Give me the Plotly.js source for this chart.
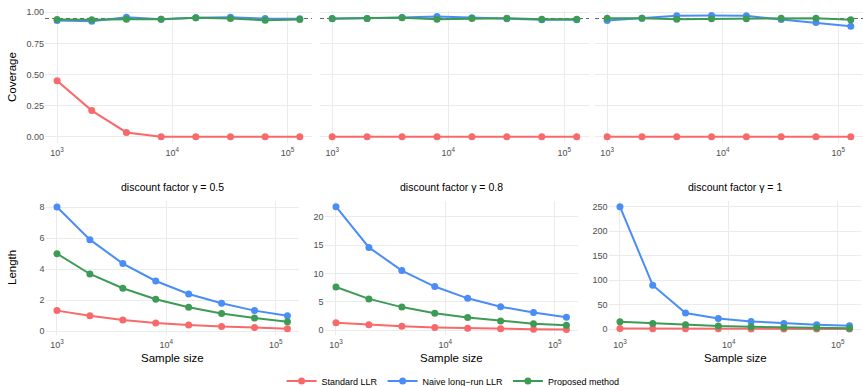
<!DOCTYPE html>
<html>
<head>
<meta charset="utf-8">
<script src="https://cdn.plot.ly/plotly-3.0.1.min.js"></script>
<style>html,body{margin:0;padding:0;background:#fff;}#chart{width:863px;height:386px;}</style>
</head>
<body>
<div id="chart"></div>
<script>
// Data
const sampleSizes = [1000, 2000, 4000, 8000, 16000, 32000, 64000, 128000];
const methods = ["Standard LLR", "Naive long\u2212run LLR", "Proposed method"];
const gammaTitles = ["discount factor \u03b3 = 0.5", "discount factor \u03b3 = 0.8", "discount factor \u03b3 = 1"];
const nominalLevel = 0.95;

// Coverage (top row)
const covStd_05 = [0.45, 0.21, 0.035, 0, 0, 0, 0, 0];
const covNaive_05 = [0.933, 0.928, 0.960, 0.944, 0.955, 0.960, 0.949, 0.947];
const covProp_05 = [0.941, 0.939, 0.944, 0.944, 0.955, 0.949, 0.936, 0.941];
const covStd_08 = [0, 0, 0, 0, 0, 0, 0, 0];
const covNaive_08 = [0.947, 0.949, 0.957, 0.965, 0.955, 0.947, 0.939, 0.939];
const covProp_08 = [0.949, 0.949, 0.955, 0.944, 0.949, 0.952, 0.944, 0.944];
const covStd_1 = [0, 0, 0, 0, 0, 0, 0, 0];
const covNaive_1 = [0.933, 0.952, 0.971, 0.973, 0.971, 0.941, 0.917, 0.888];
const covProp_1 = [0.952, 0.952, 0.944, 0.947, 0.947, 0.952, 0.952, 0.939];

// Length (bottom row)
const lenStd_05 = [1.33, 1.0, 0.73, 0.54, 0.41, 0.30, 0.24, 0.17];
const lenNaive_05 = [8.0, 5.9, 4.36, 3.24, 2.4, 1.8, 1.33, 1.0];
const lenProp_05 = [5.0, 3.69, 2.77, 2.06, 1.55, 1.14, 0.86, 0.62];
const lenStd_08 = [1.3, 0.92, 0.66, 0.45, 0.32, 0.22, 0.15, 0.1];
const lenNaive_08 = [21.8, 14.6, 10.5, 7.68, 5.6, 4.1, 3.1, 2.26];
const lenProp_08 = [7.6, 5.5, 4.05, 2.98, 2.2, 1.6, 1.13, 0.83];
const lenStd_1 = [1.4, 1.0, 0.75, 0.55, 0.4, 0.3, 0.22, 0.16];
const lenNaive_1 = [250, 89.7, 32.9, 21.9, 15.8, 11.6, 8.9, 6.8];
const lenProp_1 = [15, 11.6, 8.9, 6.2, 4.8, 3.4, 2.7, 2.0];

const colors = ["#F8696B", "#4A8DF6", "#3D9B55"];
const W = 863, H = 386;
const FONT = "Liberation Sans, Arial, sans-serif";

const coverage = [[covStd_05, covNaive_05, covProp_05], [covStd_08, covNaive_08, covProp_08], [covStd_1, covNaive_1, covProp_1]];
const lengths = [[lenStd_05, lenNaive_05, lenProp_05], [lenStd_08, lenNaive_08, lenProp_08], [lenStd_1, lenNaive_1, lenProp_1]];

const traces = [];
function addPanel(data, idx, legend) {
  const xa = idx === 1 ? "x" : "x" + idx;
  const ya = idx === 1 ? "y" : "y" + idx;
  for (let m = 0; m < 3; m++) {
    traces.push({
      x: sampleSizes, y: data[m], type: "scatter", mode: "lines+markers",
      name: methods[m], legendgroup: methods[m], showlegend: legend,
      line: {color: colors[m], width: 2}, marker: {color: colors[m], size: 7},
      xaxis: xa, yaxis: ya, hoverinfo: "skip"
    });
  }
}
for (let p = 0; p < 3; p++) addPanel(coverage[p], p + 1, p === 0);
for (let p = 0; p < 3; p++) addPanel(lengths[p], p + 4, false);

const px = (a, b) => [a / W, b / W];
const py = (top, bot) => [1 - bot / H, 1 - top / H];

const topX = [px(45, 312), px(320, 589), px(595, 863)];
const botX = [px(45.5, 299), px(324.5, 578), px(608.5, 861)];
const topY = py(11, 143);
const botY = py(201, 335);

const tickFont = {family: FONT, size: 9, color: "#4d4d4d"};
function xAxis(dom, anchor) {
  return {
    type: "log", domain: dom, anchor: anchor, range: [2.895, 5.213],
    tickvals: [1000, 10000, 100000], ticktext: ["10<sup>3</sup>", "10<sup>4</sup>", "10<sup>5</sup>"],
    showgrid: true, gridcolor: "#EBEBEB", gridwidth: 1, zeroline: false, showline: false,
    ticks: "", ticklabelstandoff: 3, tickfont: tickFont, fixedrange: true, automargin: false
  };
}
function yAxis(dom, anchor, range, vals, fmt, show) {
  return {
    domain: dom, anchor: anchor, range: range, tickvals: vals, tickformat: fmt,
    showticklabels: show, showgrid: true, gridcolor: "#EBEBEB", gridwidth: 1,
    zeroline: false, showline: false, ticks: "", tickfont: tickFont, fixedrange: true, automargin: false
  };
}

const layout = {
  width: W, height: H, margin: {l: 0, r: 0, t: 0, b: 0, pad: 0, autoexpand: false},
  paper_bgcolor: "#fff", plot_bgcolor: "#fff",
  font: {family: FONT},
  showlegend: true,
  legend: {orientation: "h", x: 0.525, xanchor: "center", y: 1 - 381 / H, yanchor: "middle",
    font: {family: FONT, size: 9, color: "#000"}, itemwidth: 30, tracegroupgap: 0},
  xaxis: xAxis(topX[0], "y"), xaxis2: xAxis(topX[1], "y2"), xaxis3: xAxis(topX[2], "y3"),
  xaxis4: xAxis(botX[0], "y4"), xaxis5: xAxis(botX[1], "y5"), xaxis6: xAxis(botX[2], "y6"),
  yaxis: yAxis(topY, "x", [-0.05, 1.01], [0, 0.25, 0.5, 0.75, 1], ".2f", true),
  yaxis2: yAxis(topY, "x2", [-0.05, 1.01], [0, 0.25, 0.5, 0.75, 1], ".2f", false),
  yaxis3: yAxis(topY, "x3", [-0.05, 1.01], [0, 0.25, 0.5, 0.75, 1], ".2f", false),
  yaxis4: yAxis(botY, "x4", [-0.24, 8.39], [0, 2, 4, 6, 8], "d", true),
  yaxis5: yAxis(botY, "x5", [-0.88, 22.8], [0, 5, 10, 15, 20], "d", true),
  yaxis6: yAxis(botY, "x6", [-12, 261.5], [0, 50, 100, 150, 200, 250], "d", true),
  shapes: [1, 2, 3].map(i => ({
    type: "line", xref: (i === 1 ? "x" : "x" + i) + " domain", yref: i === 1 ? "y" : "y" + i,
    x0: 0, x1: 1, y0: nominalLevel, y1: nominalLevel,
    line: {color: "#666666", width: 1, dash: "4px,3px"}, layer: "below"
  })),
  annotations: []
};

const ann = layout.annotations;
ann.push({text: "Coverage", xref: "paper", yref: "paper", x: 12 / W, y: 1 - 77 / H, showarrow: false,
  textangle: -90, font: {family: FONT, size: 11.5, color: "#000"}, xanchor: "center", yanchor: "middle"});
ann.push({text: "Length", xref: "paper", yref: "paper", x: 12 / W, y: 1 - 268 / H, showarrow: false,
  textangle: -90, font: {family: FONT, size: 11.5, color: "#000"}, xanchor: "center", yanchor: "middle"});
const centers = [172, 451, 735];
for (let p = 0; p < 3; p++) {
  ann.push({text: "Sample size", xref: "paper", yref: "paper", x: centers[p] / W, y: 1 - 358 / H, showarrow: false,
    font: {family: FONT, size: 11.5, color: "#000"}, xanchor: "center", yanchor: "middle"});
  ann.push({text: gammaTitles[p], xref: "paper", yref: "paper", x: centers[p] / W, y: 1 - 187 / H, showarrow: false,
    font: {family: FONT, size: 10.5, color: "#000"}, xanchor: "center", yanchor: "middle"});
}

Plotly.newPlot("chart", traces, layout, {displayModeBar: false, staticPlot: true});
</script>
</body>
</html>
